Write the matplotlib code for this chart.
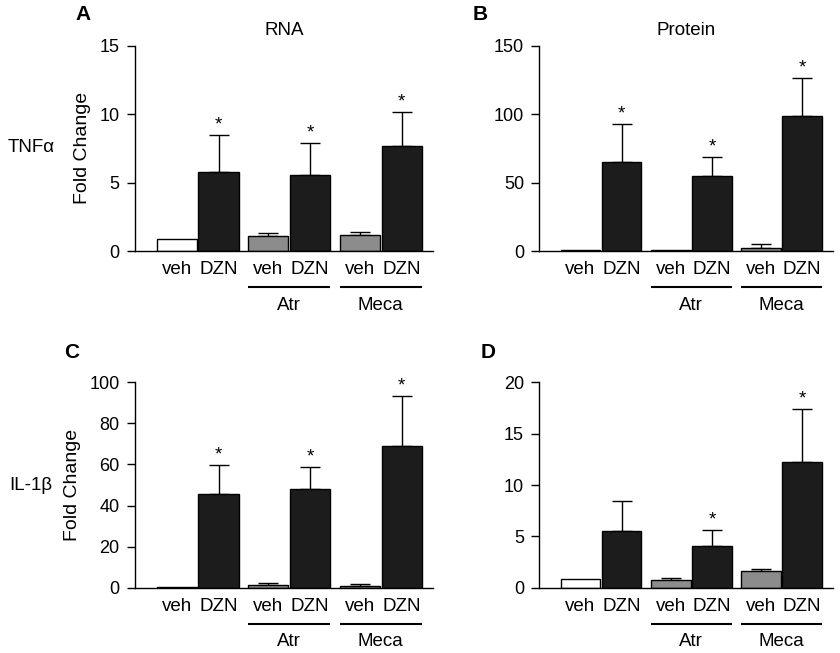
import matplotlib
matplotlib.use('Agg')
import matplotlib.pyplot as plt
import numpy as np

plt.rcParams['font.family'] = ['Liberation Sans', 'DejaVu Sans']

# Data (fold change, mean and upper SEM)
groups = ['', 'Atr', 'Meca']
bar_labels = ['veh', 'DZN']

rna_tnf_veh = [0.9, 1.1, 1.19]
rna_tnf_veh_err = [0, 0.24, 0.2]
rna_tnf_dzn = [5.77, 5.53, 7.68]
rna_tnf_dzn_err = [2.73, 2.39, 2.5]
rna_tnf_star = [1, 1, 1]

prot_tnf_veh = [0.5, 0.5, 2.0]
prot_tnf_veh_err = [0, 0, 2.9]
prot_tnf_dzn = [64.8, 54.8, 98.7]
prot_tnf_dzn_err = [28.2, 13.9, 28.0]
prot_tnf_star = [1, 1, 1]

rna_il1_veh = [0.3, 1.2, 1.0]
rna_il1_veh_err = [0, 0.9, 0.8]
rna_il1_dzn = [45.6, 48.2, 69.2]
rna_il1_dzn_err = [14.2, 10.6, 24.0]
rna_il1_star = [1, 1, 1]

prot_il1_veh = [0.88, 0.75, 1.59]
prot_il1_veh_err = [0, 0.19, 0.26]
prot_il1_dzn = [5.52, 4.03, 12.24]
prot_il1_dzn_err = [2.92, 1.56, 5.16]
prot_il1_star = [0, 1, 1]

veh_colors = ['white', '#8c8c8c', '#8c8c8c']
dzn_color = '#1c1c1c'

fig = plt.figure(figsize=(8.4, 6.53), dpi=100)

W, H = 840, 653
def axes_px(left, right, top, bottom):
    return fig.add_axes([left / W, 1 - bottom / H, (right - left) / W, (bottom - top) / H])

axA = axes_px(135, 433, 45.7, 251)
axB = axes_px(539.3, 833, 45.7, 251)
axC = axes_px(135, 433, 382.3, 587.7)
axD = axes_px(539.3, 833, 382.3, 587.7)

veh_x = np.array([0, 2.28, 4.56])
dzn_x = veh_x + 1.04


def draw_panel(ax, veh, veh_err, dzn, dzn_err, stars, ymax, yticks):
    ax.bar(veh_x, veh, width=1.0, color=veh_colors, edgecolor='black', linewidth=1, zorder=2)
    ax.bar(dzn_x, dzn, width=1.0, color=dzn_color, edgecolor='black', linewidth=1, zorder=2)
    for x, m, e in list(zip(veh_x, veh, veh_err)) + list(zip(dzn_x, dzn, dzn_err)):
        if e > 0:
            ax.errorbar([x], [m], yerr=[[0], [e]], fmt='none', ecolor='black',
                        elinewidth=1.0, capsize=7.2, capthick=1.0, zorder=1)
    for x, m, e, s in zip(dzn_x, dzn, dzn_err, stars):
        if s:
            ax.annotate('*', (x, m + e), xytext=(0, 1), textcoords='offset points',
                        ha='center', va='bottom', fontsize=13.5)
    ax.set_xlim(-1.04, 6.38)
    ax.set_ylim(0, ymax)
    ax.set_yticks(yticks)
    ax.set_xticks([])
    ax.spines['top'].set_visible(False)
    ax.spines['right'].set_visible(False)
    ax.spines['left'].set_linewidth(1)
    ax.spines['bottom'].set_linewidth(1)
    ax.tick_params(axis='y', length=6, width=1, labelsize=13, pad=5)
    tr = ax.get_xaxis_transform()
    hpx = ax.get_window_extent().height
    for i in range(3):
        ax.text(veh_x[i], -19 / hpx, bar_labels[0], transform=tr, ha='center', va='center',
                fontsize=13.5, clip_on=False)
        ax.text(dzn_x[i], -19 / hpx, bar_labels[1], transform=tr, ha='center', va='center',
                fontsize=13.5, clip_on=False)
        if groups[i]:
            ax.plot([veh_x[i] - 0.5, dzn_x[i] + 0.5], [-36 / hpx, -36 / hpx], transform=tr,
                    color='black', lw=1.5, clip_on=False, solid_capstyle='butt')
            ax.text((veh_x[i] + dzn_x[i]) / 2, -54 / hpx, groups[i], transform=tr,
                    ha='center', va='center', fontsize=13.5, clip_on=False)


draw_panel(axA, rna_tnf_veh, rna_tnf_veh_err, rna_tnf_dzn, rna_tnf_dzn_err, rna_tnf_star,
           15, [0, 5, 10, 15])
draw_panel(axB, prot_tnf_veh, prot_tnf_veh_err, prot_tnf_dzn, prot_tnf_dzn_err, prot_tnf_star,
           150, [0, 50, 100, 150])
draw_panel(axC, rna_il1_veh, rna_il1_veh_err, rna_il1_dzn, rna_il1_dzn_err, rna_il1_star,
           100, [0, 20, 40, 60, 80, 100])
draw_panel(axD, prot_il1_veh, prot_il1_veh_err, prot_il1_dzn, prot_il1_dzn_err, prot_il1_star,
           20, [0, 5, 10, 15, 20])

axA.set_ylabel('Fold Change', fontsize=14, labelpad=6)
axC.set_ylabel('Fold Change', fontsize=14, labelpad=6)
axA.set_title('RNA', fontsize=13.5, pad=7.5)
axB.set_title('Protein', fontsize=13.5, pad=7.5)

fig.text(83 / W, 1 - 15 / H, 'A', fontsize=15, fontweight='bold', ha='center', va='center')
fig.text(480 / W, 1 - 15 / H, 'B', fontsize=15, fontweight='bold', ha='center', va='center')
fig.text(72 / W, 1 - 352 / H, 'C', fontsize=15, fontweight='bold', ha='center', va='center')
fig.text(488 / W, 1 - 352 / H, 'D', fontsize=15, fontweight='bold', ha='center', va='center')
fig.text(31 / W, 1 - 148 / H, 'TNFα', fontsize=13.5, ha='center', va='center')
fig.text(31 / W, 1 - 485 / H, 'IL-1β', fontsize=13.5, ha='center', va='center')

plt.savefig('out.png', dpi=100)
